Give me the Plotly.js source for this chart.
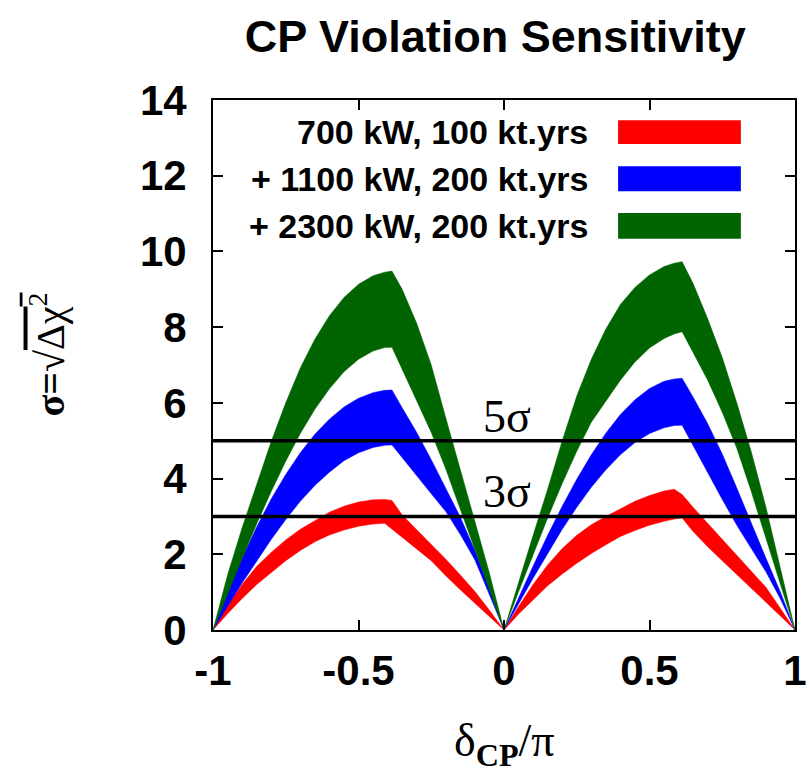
<!DOCTYPE html>
<html>
<head>
<meta charset="utf-8">
<script src="https://cdn.plot.ly/plotly-3.0.1.min.js"></script>
<style>html,body{margin:0;padding:0;background:#fff;}#chart{width:809px;height:773px;}</style>
</head>
<body>
<div id="chart"></div>
<script>
// δCP/π grid
const deltaCP = [-1, -0.95, -0.9, -0.85, -0.8, -0.75, -0.7, -0.65, -0.6, -0.55, -0.5, -0.45, -0.41, -0.385, -0.35, -0.3, -0.25, -0.2, -0.15, -0.1, -0.05,
  0,
  0.05, 0.1, 0.15, 0.2, 0.25, 0.3, 0.35, 0.4, 0.45, 0.5, 0.55, 0.585, 0.612, 0.65, 0.7, 0.75, 0.8, 0.85, 0.9, 0.95, 1];

// 700 kW, 100 kt.yrs (red band)
const redUpper = [0, 0.65, 1.2, 1.68, 2.05, 2.38, 2.66, 2.89, 3.11, 3.27, 3.38, 3.44, 3.45, 3.42, 3.04, 2.65, 2.27, 1.87, 1.45, 1.02, 0.52,
  0,
  0.62, 1.2, 1.72, 2.15, 2.5, 2.78, 3.0, 3.2, 3.4, 3.55, 3.67, 3.72, 3.58, 3.24, 2.82, 2.4, 1.99, 1.57, 1.13, 0.57, 0];
const redLower = [0, 0.43, 0.83, 1.2, 1.52, 1.83, 2.1, 2.33, 2.51, 2.64, 2.74, 2.8, 2.82, 2.68, 2.45, 2.14, 1.83, 1.43, 1.06, 0.69, 0.35,
  0,
  0.42, 0.8, 1.17, 1.48, 1.76, 2.02, 2.25, 2.47, 2.63, 2.77, 2.87, 2.93, 2.96, 2.6, 2.2, 1.83, 1.46, 1.1, 0.73, 0.37, 0];

// + 1100 kW, 200 kt.yrs (blue band)
const blueUpper = [0, 0.99, 1.9, 2.72, 3.46, 4.11, 4.68, 5.17, 5.57, 5.89, 6.12, 6.27, 6.33, 6.34, 5.87, 5.22, 4.5, 3.75, 2.98, 2.1, 1.1,
  0,
  0.85, 1.69, 2.5, 3.27, 3.98, 4.63, 5.2, 5.69, 6.08, 6.38, 6.57, 6.63, 6.65, 6.15, 5.45, 4.65, 3.75, 2.8, 1.9, 1.0, 0];
const blueLower = [0, 0.62, 1.24, 1.83, 2.39, 2.92, 3.4, 3.82, 4.17, 4.47, 4.68, 4.82, 4.88, 4.89, 4.55, 4.08, 3.6, 3.13, 2.52, 1.85, 0.93,
  0,
  0.69, 1.37, 2.03, 2.66, 3.24, 3.77, 4.23, 4.63, 4.95, 5.19, 5.34, 5.4, 5.41, 4.9, 4.17, 3.45, 2.77, 2.15, 1.54, 0.82, 0];

// + 2300 kW, 200 kt.yrs (green band)
const greenUpper = [0, 1.45, 2.7, 3.85, 4.98, 6.0, 6.92, 7.68, 8.3, 8.78, 9.13, 9.36, 9.45, 9.48, 9.0, 8.1, 7.0, 5.6, 4.25, 2.9, 1.5,
  0,
  1.28, 2.5, 3.72, 5.0, 6.18, 7.15, 7.95, 8.6, 9.05, 9.38, 9.6, 9.69, 9.73, 9.15, 8.22, 7.2, 6.0, 4.7, 3.25, 1.65, 0];
const greenLower = [0, 0.95, 1.89, 2.8, 3.66, 4.46, 5.19, 5.83, 6.37, 6.82, 7.15, 7.37, 7.46, 7.47, 6.88, 6.05, 5.22, 4.25, 3.2, 2.14, 1.07,
  0,
  1.01, 2.0, 2.96, 3.87, 4.72, 5.49, 6.05, 6.6, 7.08, 7.45, 7.7, 7.82, 7.88, 7.35, 6.6, 5.75, 4.8, 3.65, 2.42, 1.2, 0];

const seriesNames = ['700 kW, 100 kt.yrs', '+ 1100 kW, 200 kt.yrs', '+ 2300 kW, 200 kt.yrs'];
const seriesColors = ['#ff0000', '#0000ff', '#006400'];
const sigmaLevels = [3, 5];
const sigmaLabels = ['3σ', '5σ'];
const xTicks = [-1, -0.5, 0, 0.5, 1];
const xTickText = ['-1', '-0.5', '0', '0.5', '1'];
const yTicks = [0, 2, 4, 6, 8, 10, 12, 14];

const bands = [[redUpper, redLower], [blueUpper, blueLower], [greenUpper, greenLower]];

function bandTrace(upper, lower, name, color) {
  const xs = deltaCP.concat(deltaCP.slice().reverse());
  const ys = upper.concat(lower.slice().reverse());
  return {
    type: 'scatter', mode: 'lines', x: xs, y: ys, fill: 'toself',
    fillcolor: color, line: {color: color, width: 0.5}, name: name,
    showlegend: false, hoverinfo: 'skip'
  };
}

const traces = bands.map((b, i) => bandTrace(b[0], b[1], seriesNames[i], seriesColors[i]));

const SANS = 'Liberation Sans, Arial, sans-serif';
const SERIF = 'Liberation Serif, Times New Roman, serif';

const shapes = [];
const annotations = [];

sigmaLevels.forEach((lv, i) => {
  shapes.push({type: 'line', xref: 'paper', x0: 0, x1: 1, yref: 'y', y0: lv, y1: lv,
    line: {color: '#000', width: 3.5}, layer: 'above'});
  annotations.push({xref: 'x', yref: 'y', x: 0.01, y: lv, yanchor: 'bottom', xanchor: 'center', yshift: -3,
    text: sigmaLabels[i], showarrow: false, font: {family: SERIF, size: 46, color: '#000'}});
});

// legend (text left, swatch right)
const legTop = [0.962, 0.875, 0.787];
const legBot = [0.917, 0.828, 0.738];
seriesNames.forEach((nm, i) => {
  shapes.push({type: 'rect', xref: 'paper', yref: 'paper', x0: 0.696, x1: 0.907, y0: legBot[i], y1: legTop[i],
    fillcolor: seriesColors[i], line: {width: 0}});
  annotations.push({xref: 'paper', yref: 'paper', x: 0.648, y: (legTop[i] + legBot[i]) / 2, xanchor: 'right', yanchor: 'middle',
    text: nm, showarrow: false, font: {family: SANS, size: 34, color: '#000', weight: 'bold'}});
});

// axis titles
annotations.push({xref: 'paper', yref: 'paper', x: 0.5, y: -0.215, xanchor: 'center', yanchor: 'middle', showarrow: false,
  text: 'δ<sub><b>CP</b></sub>/π', font: {family: SERIF, size: 46, color: '#000'}});
annotations.push({xref: 'paper', yref: 'paper', x: -0.285, y: 0.52, xanchor: 'center', yanchor: 'middle', showarrow: false, textangle: -90,
  text: '<b>σ=</b>√<span style="text-decoration:overline">Δχ<sup>2</sup></span>', font: {family: SERIF, size: 40, color: '#000'}});

const axisCommon = {
  showgrid: false, zeroline: false, showline: true, linecolor: '#000', linewidth: 2,
  mirror: 'allticks', ticks: 'inside', ticklen: 10, tickwidth: 2, tickcolor: '#000',
  tickfont: {family: SANS, size: 42, color: '#000', weight: 'bold'}
};

const layout = {
  width: 809, height: 773,
  margin: {l: 213, r: 14, t: 100, b: 143},
  paper_bgcolor: '#fff', plot_bgcolor: '#fff',
  showlegend: false,
  title: {text: 'CP Violation Sensitivity', font: {family: SANS, size: 45, color: '#000', weight: 'bold'},
    x: 0.485, xref: 'paper', xanchor: 'center', y: 1 - 36 / 773, yref: 'container', yanchor: 'middle'},
  xaxis: Object.assign({}, axisCommon, {range: [-1, 1], tickvals: xTicks, ticktext: xTickText, ticklabelstandoff: 3}),
  yaxis: Object.assign({}, axisCommon, {range: [0, 14], tickvals: yTicks, ticklabelstandoff: 16}),
  shapes: shapes,
  annotations: annotations
};

Plotly.newPlot('chart', traces, layout, {staticPlot: true, displayModeBar: false});
</script>
</body>
</html>
